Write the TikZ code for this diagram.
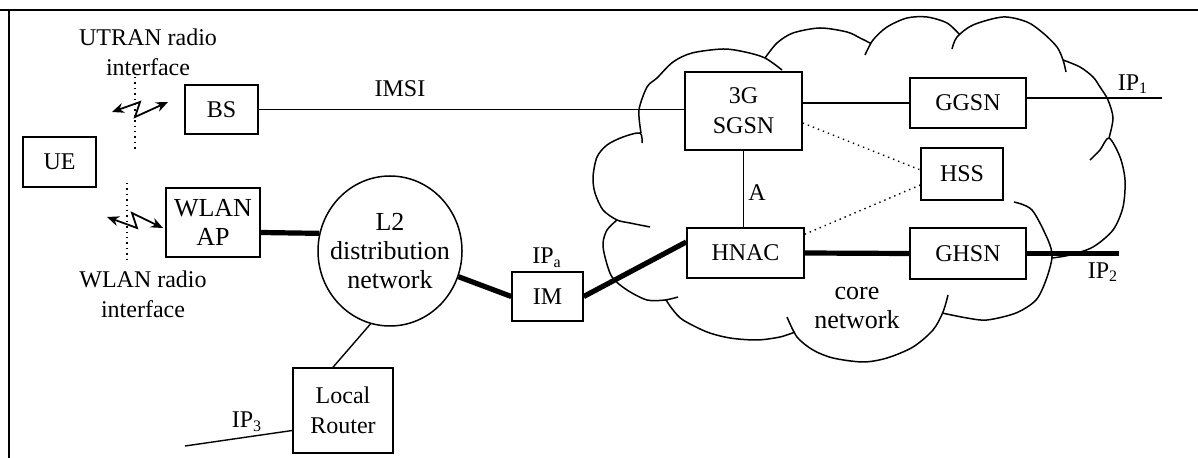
\documentclass[tikz,border=0pt]{standalone}
\usepackage{fontspec}
\setmainfont{Liberation Serif}
\usetikzlibrary{arrows.meta,calc,positioning,shapes.geometric}

\begin{document}
\begin{tikzpicture}[x=0.5pt, y=-0.5pt,
  lbl/.style={font=\fontsize{12}{15}\selectfont, align=center, inner sep=0pt},
  lblbig/.style={lbl, font=\fontsize{13}{14.5}\selectfont},
  nbox/.style={lbl, draw, line width=0.75pt},
  nlink/.style={line width=0.7pt},
  nfat/.style={line width=2.6pt},
  nair/.style={line width=0.9pt, {Stealth[length=6pt,width=5pt]}-{Stealth[length=6pt,width=5pt]}},
  ncloud/.style={line width=0.75pt, line join=round}
 ]
  \useasboundingbox (0,0) rectangle (1198,458);
  \draw[line width=0.8pt] (0,10) -- (1198,10) (9,10) -- (9,458);

  % access side
  \node[nbox, minimum width=36.5pt, minimum height=25pt] (ue) at (59.5,162) {UE};
  \node[nbox, minimum width=36.5pt, minimum height=24.5pt] (bs) at (221.5,109.5) {BS};
  \node[nbox, lblbig, minimum width=47pt, minimum height=34.5pt] (wlan) at (213,222.5) {WLAN\\AP};
  \node[draw, ellipse, line width=0.75pt, inner sep=0pt, minimum width=72pt, minimum height=75pt] (l2) at (390,251) {};
  \node[lblbig] (l2txt) at (l2) {L2\\distribution\\network};
  \node[nbox, minimum width=50pt, minimum height=42.5pt] (router) at (343,410.5) {Local\\Router};
  \node[nbox, minimum width=35.5pt, minimum height=24.5pt] (im) at (547.5,296.5) {IM};

  \node[lbl] (utran) at (148,52) {UTRAN radio\\interface};
  \node[lbl] (wlanif) at (143,294) {WLAN radio\\interface};
  \draw[dotted, nlink] (135,77) -- (135,150);
  \draw[dotted, nlink] (127,183) -- (127,263);
  \draw[nair] (112,112) -- (140,102) -- (135,117) -- (168,102);
  \draw[nair] (107,217) -- (137,228) -- (132,213) -- (163,228);

  % core network cloud
  \draw[ncloud]
    plot[smooth] coordinates {(642,143) (640,133) (623,137) (607,145) (597,157) (593,177) (595,193) (603,210) (617,220) (630,223) (650,227)}
    plot[smooth] coordinates {(617,220) (607,230) (603,243) (605,257) (612,277) (627,290) (647,300) (665,300) (678,297)}
    plot[smooth] coordinates {(666,300) (673,310) (683,320) (707,332) (730,338) (757,340) (780,337) (795,332)}
    plot[smooth] coordinates {(787,317) (797,337) (813,350) (833,358) (863,362) (887,358) (913,347) (933,330) (943,312) (948,295)}
    plot[smooth] coordinates {(942,313) (967,318) (987,320) (1016,313) (1036,300) (1046,280) (1052,257) (1048,240) (1032,210) (1014,202)}
    plot[smooth] coordinates {(1052,258) (1070,255) (1093,247) (1113,230) (1123,207) (1125,180) (1120,157) (1109,138) (1100,150) (1090,160)}
    plot[smooth] coordinates {(1063,60) (1080,67) (1093,77) (1100,87) (1108,100) (1113,118) (1109,138)}
    plot[smooth] coordinates {(952,49) (957,37) (973,25) (1003,17) (1027,22) (1043,33) (1057,47) (1063,60) (1066,72)}
    plot[smooth] coordinates {(865,55) (873,40) (887,27) (907,18) (927,17) (947,23) (960,35)}
    plot[smooth] coordinates {(765,58) (777,43) (793,33) (820,28) (847,32) (860,38) (870,43)}
    plot[smooth] coordinates {(641,133) (639,110) (647,87) (657,78) (673,62) (692,53) (723,49) (745,52) (765,58) (782,70)};

  \node[nbox, minimum width=58.5pt, minimum height=39pt] (sgsn) at (743.5,111) {3G\\SGSN};
  \node[nbox, minimum width=58pt, minimum height=25pt] (ggsn) at (968,103) {GGSN};
  \node[nbox, minimum width=41pt, minimum height=26pt] (hss) at (962,174) {HSS};
  \node[nbox, minimum width=58.5pt, minimum height=25pt] (hnac) at (745.5,253) {HNAC};
  \node[nbox, minimum width=58pt, minimum height=25.5pt] (ghsn) at (968,253.5) {GHSN};
  \node[lblbig] (core) at (857,308.5) {core\\network};

  % labels
  \node[lbl] (imsi) at (400,89) {IMSI};
  \node[lbl] (ipa) at (547,258) {IP\textsubscript{a}};
  \node[lbl] (ip1) at (1133,84) {IP\textsubscript{1}};
  \node[lbl] (ip2) at (1103,272) {IP\textsubscript{2}};
  \node[lbl] (ip3) at (247,422) {IP\textsubscript{3}};
  \node[lbl] (alink) at (757,193) {A};

  \coordinate (ip1end) at (1162,98);
  \coordinate (ip2end) at (1119,253.5);
  \coordinate (ip3end) at (185,446);

  % links
  \draw[nlink] (bs.east) -- (bs.east -| sgsn.west);
  \draw[nlink] (ggsn.west -| sgsn.east) -- (ggsn.west);
  \draw[nlink] ($(ggsn.east)+(0,-5)$) -- (ip1end);
  \draw[nlink] (sgsn.south) -- (sgsn.south |- hnac.north);
  \draw[nlink, dotted] ($(sgsn.east)+(0,12)$) -- ($(hss.west)+(0,-4)$);
  \draw[nlink, dotted] ($(hnac.north east)+(0,7)$) -- ($(hss.west)+(0,11)$);
  \draw[nfat] (hnac.east) -- (ghsn.west);
  \draw[nfat] (ghsn.east) -- (ip2end);
  \draw[nfat] (im.east) -- ($(hnac.west)+(0,-11)$);
  \draw[nfat] (l2) -- (im.west);
  \draw[nfat] ($(wlan.east)+(0,10)$) -- (l2.166);
  \draw[nlink] (l2.255) -- ($(router.north)+(-10,0)$);
  \draw[nlink] ($(router.west)+(0,20)$) -- (ip3end);
\end{tikzpicture}
\end{document}
